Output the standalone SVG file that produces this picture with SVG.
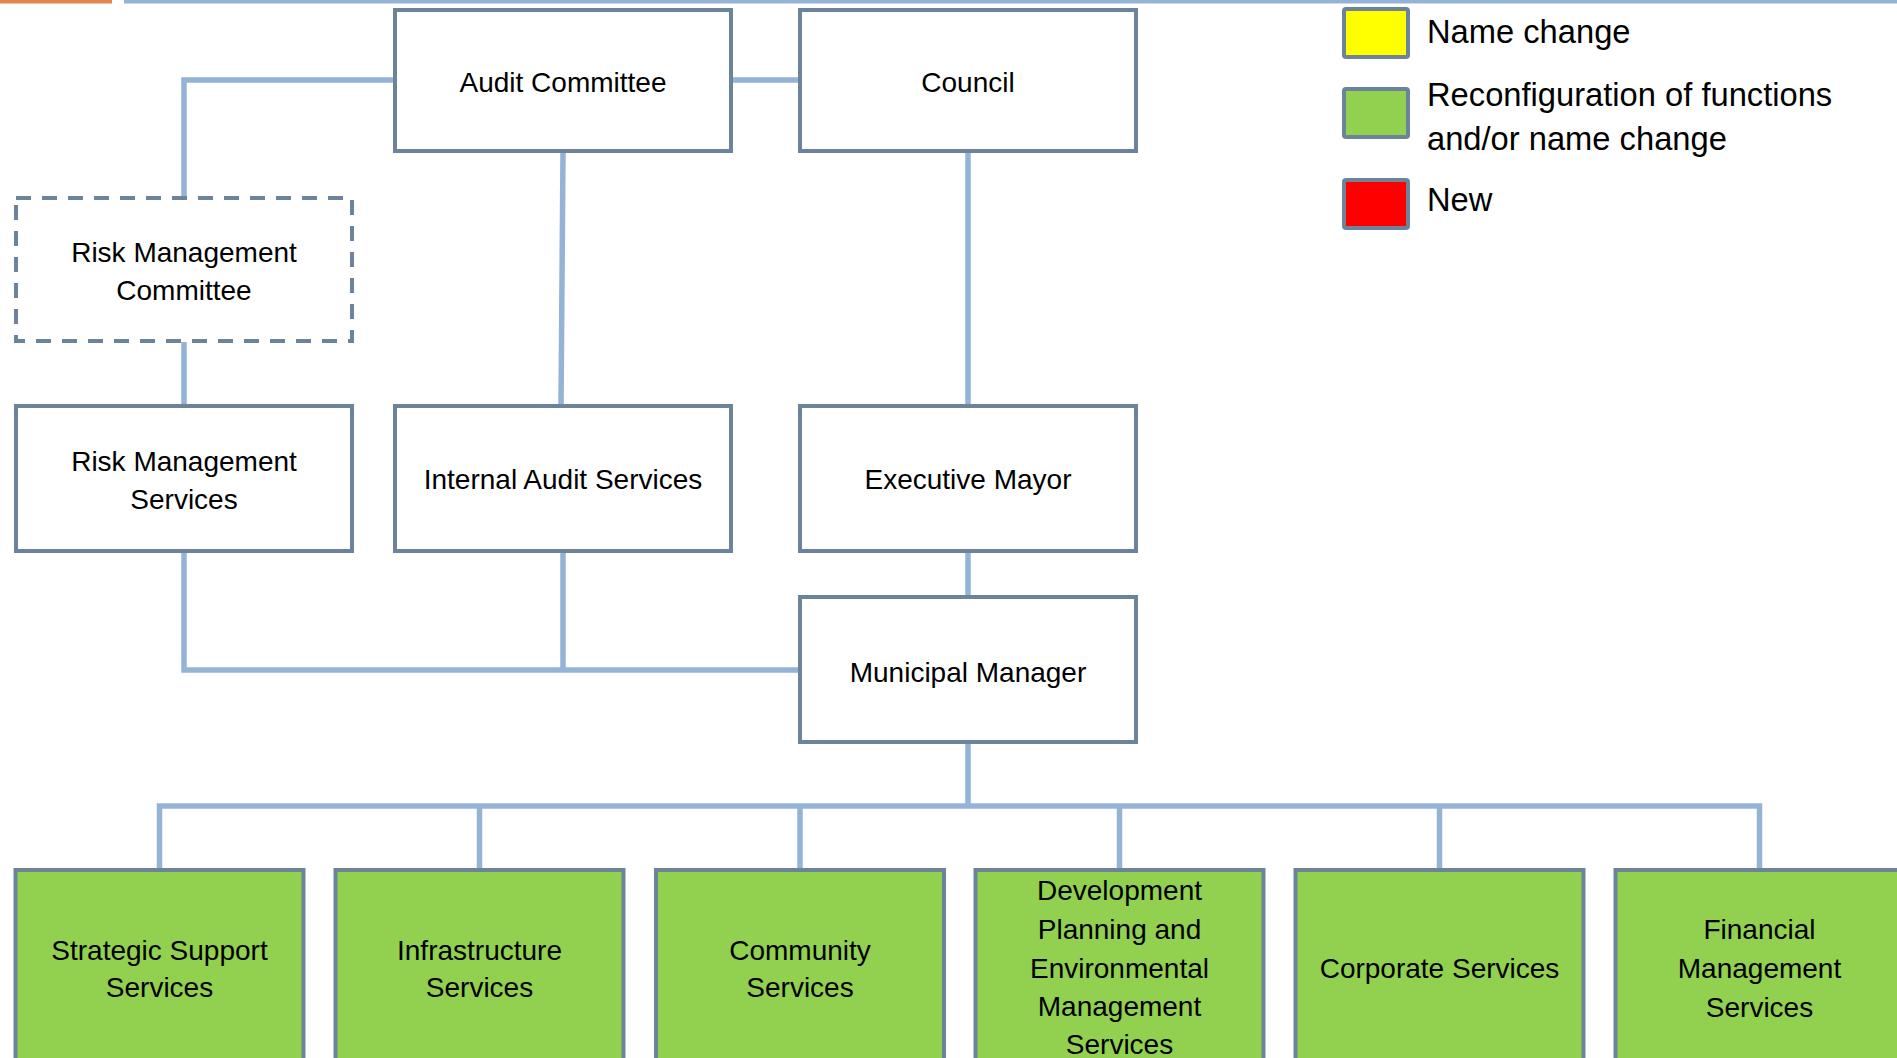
<svg xmlns="http://www.w3.org/2000/svg" width="1897" height="1058" viewBox="0 0 1897 1058">
<style>
.box{fill:#ffffff;stroke:#6c8399;stroke-width:4}
.dash{fill:#ffffff;stroke:#6c8399;stroke-width:4;stroke-dasharray:15 11}
.green{fill:#92d050;stroke:#6c8399;stroke-width:4}
.conn{fill:none;stroke:#95b3d7;stroke-width:5.5;stroke-linejoin:miter}
.t{font-family:"Liberation Sans",Arial,sans-serif;font-size:28px;fill:#000;text-anchor:middle}
.lg{font-family:"Liberation Sans",Arial,sans-serif;font-size:32.7px;fill:#000}
.sw{stroke:#6c8399;stroke-width:4}
</style>
<rect width="1897" height="1058" fill="#ffffff"/>
<rect x="0" y="0" width="112" height="3.5" fill="#e5844b"/>
<rect x="124" y="0" width="1773" height="3.5" fill="#95b3d7"/>
<g id="connectors">
<path class="conn" d="M395 80H184V198"/>
<path class="conn" d="M733 80H798"/>
<path class="conn" d="M563 153L561 406"/>
<path class="conn" d="M184 342V406"/>
<path class="conn" d="M968 153V406"/>
<path class="conn" d="M968 551V597"/>
<path class="conn" d="M184 551V670H800"/>
<path class="conn" d="M563 551V670"/>
<path class="conn" d="M968 742V806"/>
<path class="conn" d="M159.5 870V806H1759.5V870"/>
<path class="conn" d="M479.5 806V870M800 806V870M1119.5 806V870M1439.5 806V870"/>
</g>
<g id="audit-committee"><rect class="box" x="395" y="10" width="336" height="141"/><text class="t" x="563" y="92">Audit Committee</text></g>
<g id="council"><rect class="box" x="800" y="10" width="336" height="141"/><text class="t" x="968" y="92">Council</text></g>
<g id="risk-management-committee"><rect class="dash" x="16" y="198" width="336" height="143"/><text class="t" x="184" y="262">Risk Management</text><text class="t" x="184" y="300">Committee</text></g>
<g id="risk-management-services"><rect class="box" x="16" y="406" width="336" height="145"/><text class="t" x="184" y="471">Risk Management</text><text class="t" x="184" y="509">Services</text></g>
<g id="internal-audit-services"><rect class="box" x="395" y="406" width="336" height="145"/><text class="t" x="563" y="489">Internal Audit Services</text></g>
<g id="executive-mayor"><rect class="box" x="800" y="406" width="336" height="145"/><text class="t" x="968" y="489">Executive Mayor</text></g>
<g id="municipal-manager"><rect class="box" x="800" y="597" width="336" height="145"/><text class="t" x="968" y="682">Municipal Manager</text></g>
<g id="strategic-support-services"><rect class="green" x="15.5" y="870" width="288" height="220"/><text class="t" x="159.5" y="960">Strategic Support</text><text class="t" x="159.5" y="997">Services</text></g>
<g id="infrastructure-services"><rect class="green" x="335.5" y="870" width="288" height="220"/><text class="t" x="479.5" y="960">Infrastructure</text><text class="t" x="479.5" y="997">Services</text></g>
<g id="community-services"><rect class="green" x="656" y="870" width="288" height="220"/><text class="t" x="800" y="960">Community</text><text class="t" x="800" y="997">Services</text></g>
<g id="development-planning"><rect class="green" x="975.5" y="870" width="288" height="220"/><text class="t" x="1119.5" y="900">Development</text><text class="t" x="1119.5" y="939">Planning and</text><text class="t" x="1119.5" y="978">Environmental</text><text class="t" x="1119.5" y="1016">Management</text><text class="t" x="1119.5" y="1054">Services</text></g>
<g id="corporate-services"><rect class="green" x="1295.5" y="870" width="288" height="220"/><text class="t" x="1439.5" y="978">Corporate Services</text></g>
<g id="financial-management-services"><rect class="green" x="1615.5" y="870" width="288" height="220"/><text class="t" x="1759.5" y="939">Financial</text><text class="t" x="1759.5" y="978">Management</text><text class="t" x="1759.5" y="1017">Services</text></g>
<g id="legend">
<rect class="sw" x="1344" y="9" width="64" height="48" rx="2" fill="#ffff00"/>
<text class="lg" x="1427" y="43">Name change</text>
<rect class="sw" x="1344" y="89" width="64" height="48" rx="2" fill="#92d050"/>
<text class="lg" x="1427" y="106">Reconfiguration of functions</text>
<text class="lg" x="1427" y="150">and/or name change</text>
<rect class="sw" x="1344" y="180" width="64" height="48" rx="2" fill="#ff0000"/>
<text class="lg" x="1427" y="211">New</text>
</g>
</svg>
